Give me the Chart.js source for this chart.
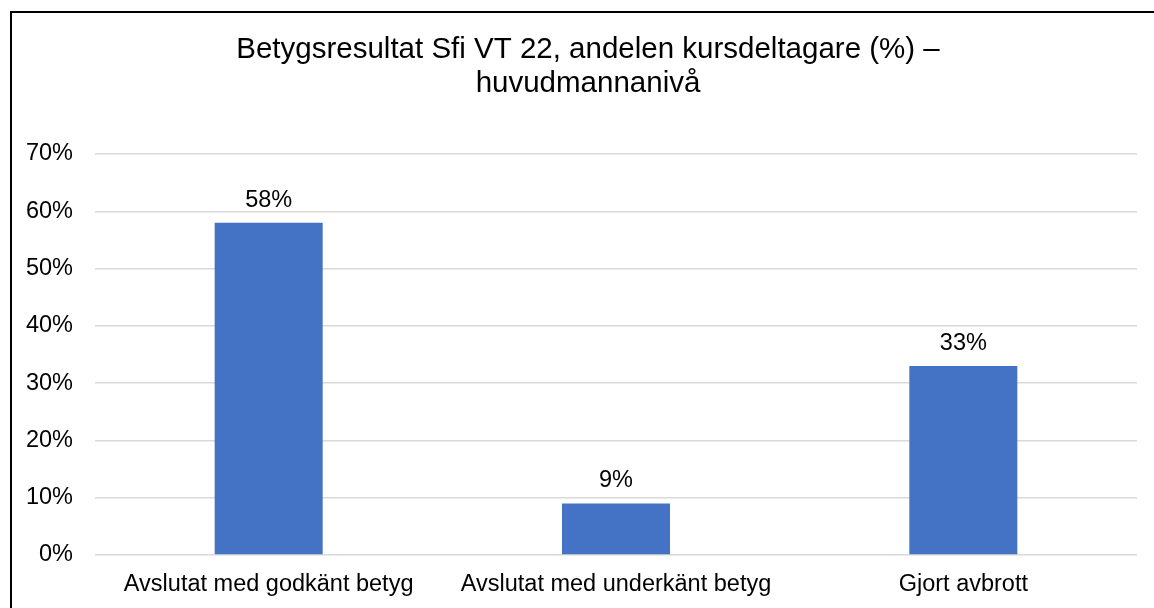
<!DOCTYPE html>
<html>
<head>
<meta charset="utf-8">
<script src="https://cdn.jsdelivr.net/npm/chart.js@4/dist/chart.umd.min.js"></script>
<style>
  html, body { margin: 0; padding: 0; background: #fff; overflow: hidden; width: 1154px; height: 608px; }
  #frame { position: absolute; left: 10px; top: 11px; width: 2000px; height: 2000px; border: 2px solid #000; }
  #wrap { position: absolute; left: 0; top: 0; width: 1154px; height: 608px; }
</style>
</head>
<body>
<div id="frame"></div>
<div id="wrap"><canvas id="c" width="1154" height="608"></canvas></div>
<script>
const titleLines = ["Betygsresultat Sfi VT 22, andelen kursdeltagare (%) –", "huvudmannanivå"];
const categories = ["Avslutat med godkänt betyg", "Avslutat med underkänt betyg", "Gjort avbrott"];
const values = [58, 9, 33];
const yMax = 70;
const yStep = 10;

const FONT = "'Liberation Sans', Arial, sans-serif";

const titlePlugin = {
  id: 'titleText',
  afterDraw(chart) {
    const ctx = chart.ctx;
    ctx.save();
    ctx.font = "29.5px " + FONT;
    ctx.fillStyle = "#000";
    ctx.textAlign = "center";
    ctx.textBaseline = "alphabetic";
    titleLines.forEach((line, i) => ctx.fillText(line, 588, 58.3 + i * 34));
    ctx.restore();
  }
};

const dataLabels = {
  id: 'dataLabels',
  afterDatasetsDraw(chart) {
    const ctx = chart.ctx;
    const meta = chart.getDatasetMeta(0);
    ctx.save();
    ctx.font = "23.5px " + FONT;
    ctx.fillStyle = "#000";
    ctx.textAlign = "center";
    ctx.textBaseline = "alphabetic";
    meta.data.forEach((bar, i) => {
      ctx.fillText(values[i] + "%", bar.x, bar.y - 16);
    });
    ctx.restore();
  }
};

new Chart(document.getElementById('c'), {
  type: 'bar',
  data: {
    labels: categories,
    datasets: [{
      data: values,
      backgroundColor: '#4472C4',
      borderWidth: 0,
      categoryPercentage: 1,
      barPercentage: 0.311
    }]
  },
  options: {
    responsive: false,
    animation: false,
    devicePixelRatio: 1,
    layout: { padding: { left: 22, right: 17, top: 154, bottom: 0 } },
    plugins: {
      legend: { display: false },
      tooltip: { enabled: false },
      title: { display: false }
    },
    scales: {
      x: {
        grid: { display: false, drawTicks: false },
        border: { display: false },
        ticks: { color: '#000', font: { family: FONT, size: 23.5 }, padding: 15, maxRotation: 0 },
        afterFit(scale) { scale.height = 53; }
      },
      y: {
        min: 0,
        max: yMax,
        grid: { color: '#d9d9d9', lineWidth: 1.5, drawTicks: false },
        border: { display: false },
        ticks: {
          stepSize: yStep,
          color: '#000',
          font: { family: FONT, size: 23.5 },
          padding: 22,
          callback: v => v + '%'
        },
        afterFit(scale) { scale.width = 73; }
      }
    }
  },
  plugins: [dataLabels, titlePlugin]
});
</script>
</body>
</html>
